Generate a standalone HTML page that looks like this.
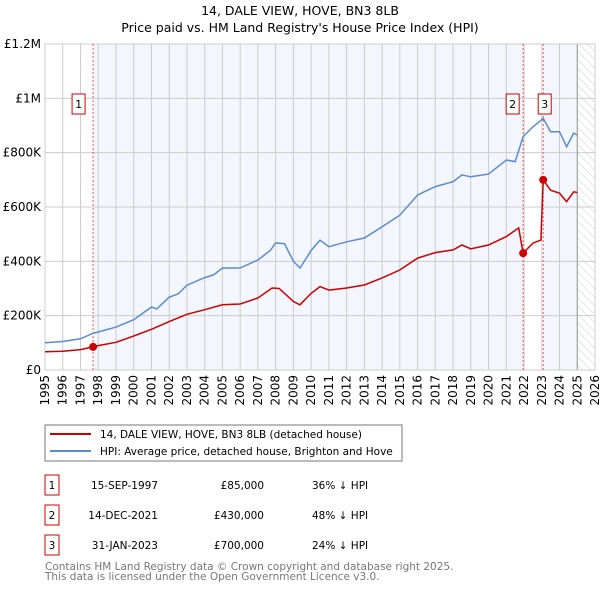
<!DOCTYPE html>
<html><head><meta charset="utf-8"><style>
body{margin:0;background:#fff;font-family:"Liberation Sans","DejaVu Sans",sans-serif;}
svg text{font-family:"DejaVu Sans","Liberation Sans",sans-serif;}
</style></head><body>
<svg id="c" width="600" height="590" xmlns="http://www.w3.org/2000/svg">
<defs><pattern id="hatch" width="6" height="6" patternUnits="userSpaceOnUse" patternTransform="rotate(-45)"><line x1="0" y1="0" x2="0" y2="6" stroke="#ccc" stroke-width="1"/></pattern></defs>
<text x="300" y="15" text-anchor="middle" font-size="12.5">14, DALE VIEW, HOVE, BN3 8LB</text>
<text x="300" y="32" text-anchor="middle" font-size="12.5">Price paid vs. HM Land Registry's House Price Index (HPI)</text>
<g id="plot"></g>
<rect x="45" y="425" width="357" height="36" fill="#fff" stroke="#777"/>
<line x1="50" y1="434" x2="91" y2="434" stroke="#cc0000" stroke-width="2"/>
<text x="100" y="438" font-size="10.5">14, DALE VIEW, HOVE, BN3 8LB (detached house)</text>
<line x1="50" y1="451" x2="91" y2="451" stroke="#5b8bd0" stroke-width="2"/>
<text x="100" y="455" font-size="10.5">HPI: Average price, detached house, Brighton and Hove</text>
<g id="table" font-size="10.5"></g>
<text x="45" y="570" font-size="10.5" fill="#777">Contains HM Land Registry data © Crown copyright and database right 2025.</text>
<text x="45" y="580" font-size="10.5" fill="#777">This data is licensed under the Open Government Licence v3.0.</text>
</svg>
<script>
const hpiYears=[1995,1996,1997,1997.7,1998,1999,2000,2001,2001.3,2002,2002.5,2003,2004,2004.5,2005,2006,2007,2007.7,2008,2008.5,2009,2009.37,2010,2010.5,2011,2012,2013,2014,2015,2016,2017,2018,2018.5,2019,2020,2021,2021.5,2021.95,2022.5,2023.08,2023.5,2024,2024.4,2024.8,2025];
const hpiValues=[100,105,115,135,140,158,185,232,225,268,280,312,340,350,375,376,405,440,468,465,400,375,440,478,454,472,486,527,570,644,675,693,718,711,721,773,767,859,895,926,877,877,822,872,865];
const propYears=[1995,1996,1997,1997.71,1998,1999,2000,2001,2002,2003,2004,2005,2006,2007,2007.8,2008.2,2009,2009.37,2010,2010.5,2011,2012,2013,2014,2015,2016,2017,2018,2018.5,2019,2020,2021,2021.7,2021.95,2022.5,2022.95,2023.08,2023.5,2024,2024.4,2024.8,2025];
const propValues=[67,69,75,85,90,102,125,150,178,205,222,240,243,265,302,300,252,240,282,307,294,302,313,339,368,412,432,442,460,446,460,491,523,430,467,478,700,662,651,620,656,653];
const saleYears=[1997.71,2021.95,2023.08];
const saleValues=[85,430,700];
const saleLabels=["1","2","3"];
const saleDates=["15-SEP-1997","14-DEC-2021","31-JAN-2023"];
const salePrices=["£85,000","£430,000","£700,000"];
const saleDiffs=["36% ↓ HPI","48% ↓ HPI","24% ↓ HPI"];
const yTicks=[0,200,400,600,800,1000,1200];
const yTickLabels=["£0","£200K","£400K","£600K","£800K","£1M","£1.2M"];
const xTicks=[];for(let y=1995;y<=2026;y++)xTicks.push(y);

const L=45,R=595,T=44,B=370,X0=1995,X1=2026,YMAX=1200;
const sx=v=>L+(v-X0)/(X1-X0)*(R-L);
const sy=v=>B-v/YMAX*(B-T);
const NS="http://www.w3.org/2000/svg";
function mk(tag,attrs,parent,txt){const e=document.createElementNS(NS,tag);for(const k in attrs)e.setAttribute(k,attrs[k]);if(txt!==undefined)e.textContent=txt;parent.appendChild(e);return e;}
const g=document.getElementById('plot');
let e;
e=mk('rect',{x:sx(saleYears[0]),y:T,width:sx(saleYears[1])-sx(saleYears[0]),height:B-T,fill:'#eef2fb',opacity:0.7},g);


e=mk('rect',{x:sx(saleYears[2]),y:T,width:sx(2025)-sx(saleYears[2]),height:B-T,fill:'#eef2fb',opacity:0.7},g);


e=mk('rect',{x:sx(2025),y:T,width:R-sx(2025),height:B-T,fill:'url(#hatch)'},g);


yTicks.forEach((v,i)=>{
  e=mk('line',{x1:L,x2:R,y1:sy(v),y2:sy(v),stroke:'#ccc'},g);
  
  
  e=mk('text',{x:L-4,y:sy(v)+4,'text-anchor':'end','font-size':12},g,yTickLabels[i]);
  
  
});
xTicks.forEach(v=>{
  e=mk('line',{x1:sx(v),x2:sx(v),y1:T,y2:B,stroke:'#ccc'},g);
  
  
  e=mk('text',{x:0,y:0,'text-anchor':'end','font-size':12,transform:`translate(${sx(v)+4},${B+5}) rotate(-90)`},g,String(v));
  
  
});
e=mk('line',{x1:sx(2025),x2:sx(2025),y1:T,y2:B,stroke:'#999'},g);


e=mk('rect',{x:L,y:T,width:R-L,height:B-T,fill:'none',stroke:'#ccc'},g);


saleYears.forEach((v,i)=>{
  e=mk('line',{x1:sx(v),x2:sx(v),y1:T,y2:B,stroke:'#e55','stroke-dasharray':'2,2'},g);
  
  
  const bx=i==0?sx(v)-14:sx(v)-(i==1?10:-2);
  e=mk('rect',{x:bx-7,y:94,width:13,height:20,fill:'#fff',stroke:'#c00'},g);
  
  
  e=mk('text',{x:bx-0.5,y:108,'text-anchor':'middle','font-size':11},g,saleLabels[i]);
  
  
});
const path=(xs,ys)=>xs.map((x,i)=>(i?'L':'M')+sx(x).toFixed(1)+','+sy(ys[i]).toFixed(1)).join('');
e=mk('path',{d:path(hpiYears,hpiValues),fill:'none',stroke:'#5b8bd0','stroke-width':1.5},g);


e=mk('path',{d:path(propYears,propValues),fill:'none',stroke:'#cc0000','stroke-width':1.5},g);


saleYears.forEach((v,i)=>{
  e=mk('circle',{cx:sx(v),cy:sy(saleValues[i]),r:4,fill:'#cc0000'},g);
  
  
});
const t=document.getElementById('table');
saleLabels.forEach((lab,i)=>{
  const y=482+i*30;
  e=mk('rect',{x:45,y:y-7,width:14,height:20,fill:'#fff',stroke:'#c00'},t);
  
  
  e=mk('text',{x:52,y:y+7,'text-anchor':'middle'},t,lab);
  
  
  e=mk('text',{x:158,y:y+7,'text-anchor':'end'},t,saleDates[i]);
  
  
  e=mk('text',{x:264,y:y+7,'text-anchor':'end'},t,salePrices[i]);
  
  
  e=mk('text',{x:312,y:y+7},t,saleDiffs[i]);
  
  
});
</script>
</body></html>
